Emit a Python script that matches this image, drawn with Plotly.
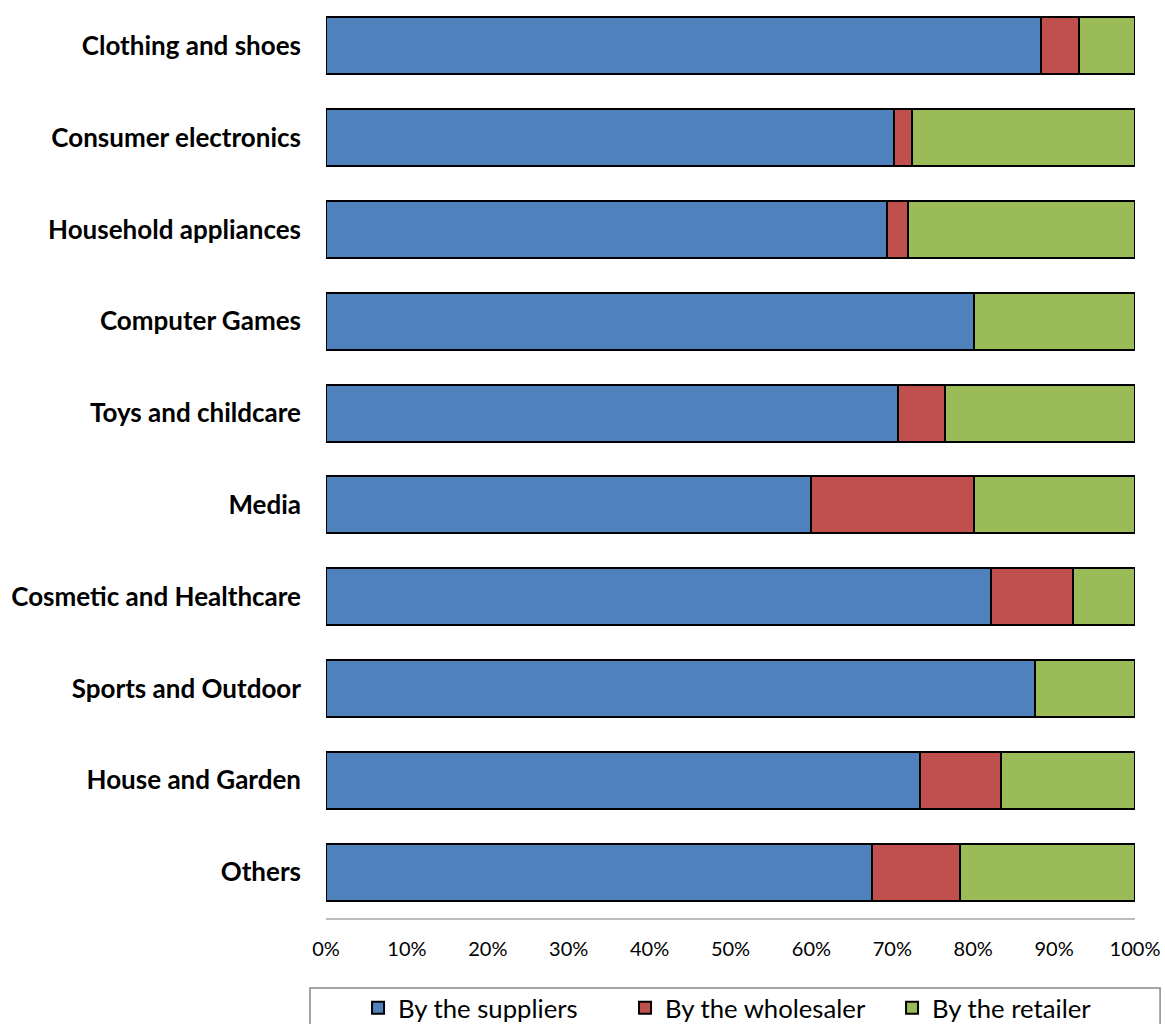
import plotly.graph_objects as go

categories = ["Clothing and shoes", "Consumer electronics", "Household appliances",
              "Computer Games", "Toys and childcare", "Media", "Cosmetic and Healthcare",
              "Sports and Outdoor", "House and Garden", "Others"]
suppliers = [88.4, 70.2, 69.3, 80.1, 70.7, 60.0, 82.2, 87.6, 73.4, 67.5]
wholesaler = [4.7, 2.2, 2.6, 0.0, 5.8, 20.1, 10.1, 0.0, 10.0, 10.9]
retailer = [6.9, 27.6, 28.1, 19.9, 23.5, 19.9, 7.7, 12.4, 16.6, 21.6]
tick_vals = [0, 10, 20, 30, 40, 50, 60, 70, 80, 90, 100]
tick_text = ["0%", "10%", "20%", "30%", "40%", "50%", "60%", "70%", "80%", "90%", "100%"]

series = [("By the suppliers", suppliers, "#4F81BD"),
          ("By the wholesaler", wholesaler, "#C0504D"),
          ("By the retailer", retailer, "#9BBB59")]

fig = go.Figure()
for name, vals, col in series:
    fig.add_trace(go.Bar(
        y=categories, x=vals, name=name, orientation="h", width=0.62,
        marker=dict(color=col, line=dict(color="black", width=2)),
    ))

fig.update_layout(
    barmode="stack",
    width=1165, height=1024,
    margin=dict(l=326, r=30, t=0, b=106, autoexpand=False),
    plot_bgcolor="white", paper_bgcolor="white",
    font=dict(family="Lato, sans-serif", color="black"),
    showlegend=True,
    legend=dict(orientation="h", x=0.0396, xanchor="left", y=-0.098, yanchor="middle",
                font=dict(size=25.7), entrywidth=222, entrywidthmode="pixels",
                traceorder="normal", bgcolor="rgba(0,0,0,0)"),
    shapes=[dict(type="rect", xref="paper", yref="paper", x0=-0.0198, x1=1.031,
                 y0=-0.0763, y1=-0.13, line=dict(color="#888888", width=1.5))],
)
fig.update_xaxes(range=[0, 100], tickvals=tick_vals, ticktext=tick_text,
                 showgrid=False, zeroline=False, showline=True, linecolor="#BBBBBB",
                 linewidth=1.5, ticks="", ticklabelstandoff=12,
                 tickfont=dict(size=20, family="Lato, sans-serif"))
fig.update_yaxes(categoryorder="array", categoryarray=categories, autorange="reversed",
                 showgrid=False, zeroline=False, showline=False, ticks="",
                 ticklabelstandoff=24,
                 tickfont=dict(size=26, family="Lato, sans-serif", weight="bold"))

fig.write_html("out.html", post_script="document.body.style.margin='0';",
               config={"displayModeBar": False})
